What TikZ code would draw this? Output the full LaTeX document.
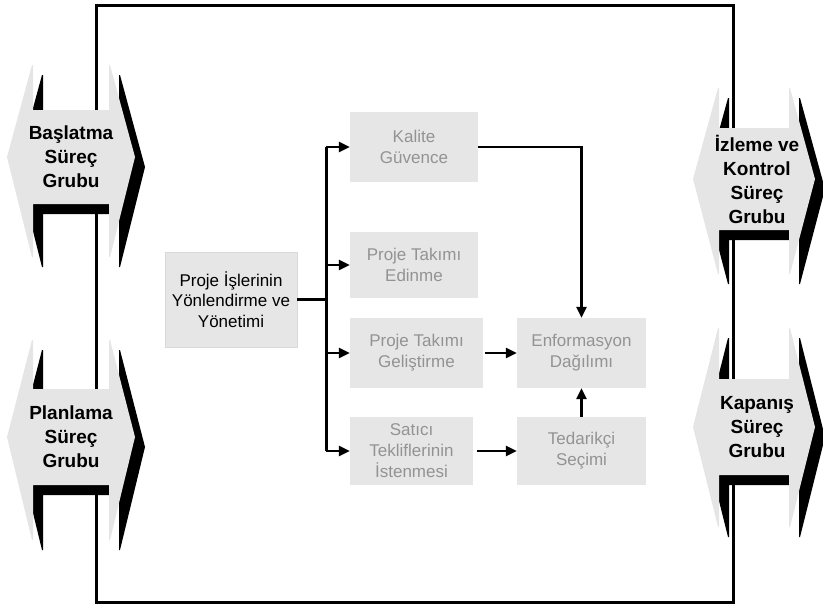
\documentclass[tikz,border=0pt]{standalone}
\usepackage{fontspec}
\setmainfont{Liberation Sans}
\usetikzlibrary{arrows.meta}

\definecolor{boxgray}{HTML}{E6E6E7}
\definecolor{shapegray}{HTML}{E5E5E6}
\definecolor{txtgray}{HTML}{939393}

% Double-headed process-group arrow with a notch at top and bottom and a
% black drop shadow. #1 left tip x, #2 tip y, #3 width, #4 slant inset,
% #5 half height of the label band, #6 height above tip, #7 depth below tip
\newcommand\procgroupshape[7]{%
  \begin{scope}[shift={({#1+10},{#2+10})}]
    \fill[black] (#4,-#6) -- ({#4+1},-#6) -- ({#4+1},-#5) -- ({#3-#4-1},-#5)
      -- ({#3-#4-1},-#6) -- ({#3-#4},-#6) -- (#3,0) -- ({#3-#4},#7)
      -- ({#3-#4-1},#7) -- ({#3-#4-1},#5) -- ({#4+1},#5) -- ({#4+1},#7)
      -- (#4,#7) -- (0,0) -- cycle;
  \end{scope}
  \begin{scope}[shift={(#1,#2)}]
    \fill[shapegray] (#4,-#6) -- ({#4+1},-#6) -- ({#4+1},-#5) -- ({#3-#4-1},-#5)
      -- ({#3-#4-1},-#6) -- ({#3-#4},-#6) -- (#3,0) -- ({#3-#4},#7)
      -- ({#3-#4-1},#7) -- ({#3-#4-1},#5) -- ({#4+1},#5) -- ({#4+1},#7)
      -- (#4,#7) -- (0,0) -- cycle;
  \end{scope}}

\tikzset{
  grouplabel/.style={font=\fontsize{19}{24}\selectfont\bfseries, align=center,
    inner sep=0pt},
  procbox/.style={fill=boxgray, text=txtgray, align=center, inner sep=0pt,
    font=\fontsize{17}{21}\selectfont},
  mainbox/.style={procbox, text=black, draw=white!85!black, line width=0.6pt,
    font=\fontsize{17}{20.5}\selectfont},
  link/.style={line width=2.5pt},
  arrowlink/.style={link, -{Triangle[length=11pt,width=10pt]}},
}

\begin{document}
\begin{tikzpicture}[x=1pt, y=-1pt]
  \useasboundingbox (0,0) rectangle (823,606);

  % boundary of the executing process group
  \draw[line width=3pt] (96,5) rectangle (733,602);

  % process group arrows on both sides
  \procgroupshape{7}{157}{128}{25}{47}{92}{100}
  \procgroupshape{7}{437}{128}{25}{48}{97}{103}
  \procgroupshape{693}{179}{122}{25}{51}{91}{95}
  \procgroupshape{693}{427}{122}{25}{48}{99}{100}

  \node[grouplabel] (baslatma) at (71,157) {Başlatma\\Süreç\\Grubu};
  \node[grouplabel] (planlama) at (71,437) {Planlama\\Süreç\\Grubu};
  \node[grouplabel] (izleme)   at (757,179) {İzleme ve\\Kontrol\\Süreç\\Grubu};
  \node[grouplabel] (kapanis)  at (757,427) {Kapanış\\Süreç\\Grubu};

  % processes
  \node[mainbox, minimum width=132pt, minimum height=95pt] (pim) at (231,299.5)
    {Proje İşlerinin\\Yönlendirme ve\\Yönetimi};
  \node[procbox, minimum width=128pt, minimum height=70pt] (kalite) at (414,147)
    {Kalite\\Güvence};
  \node[procbox, minimum width=128pt, minimum height=66pt] (edinme) at (414,265)
    {Proje Takımı\\Edinme};
  \node[procbox, minimum width=133pt, minimum height=70pt] (gelistirme) at (416.5,353)
    {Proje Takımı\\Geliştirme};
  \node[procbox, minimum width=123pt, minimum height=68pt] (satici) at (411.5,451)
    {Satıcı\\Tekliflerinin\\İstenmesi};
  \node[procbox, minimum width=129pt, minimum height=70pt] (enform) at (581.5,353)
    {Enformasyon\\Dağılımı};
  \node[procbox, minimum width=129pt, minimum height=68pt] (tedarik) at (581.5,451)
    {Tedarikçi\\Seçimi};

  % flows
  \draw[link] (pim.east) -- ++(29,0) coordinate (split);
  \draw[link] (split |- kalite.west) -- (split |- satici.west);
  \draw[arrowlink] (split |- kalite.west) -- (kalite.west);
  \draw[arrowlink] (split |- edinme.west) -- (edinme.west);
  \draw[arrowlink] (split |- gelistirme.west) -- (gelistirme.west);
  \draw[arrowlink] (split |- satici.west) -- (satici.west);
  \draw[arrowlink] (kalite.east) -| (enform.north);
  \draw[arrowlink, shorten <=2pt] (gelistirme.east) -- (enform.west);
  \draw[arrowlink, shorten <=4pt] (satici.east) -- (tedarik.west);
  \draw[arrowlink] (tedarik.north) -- (enform.south);
\end{tikzpicture}
\end{document}
